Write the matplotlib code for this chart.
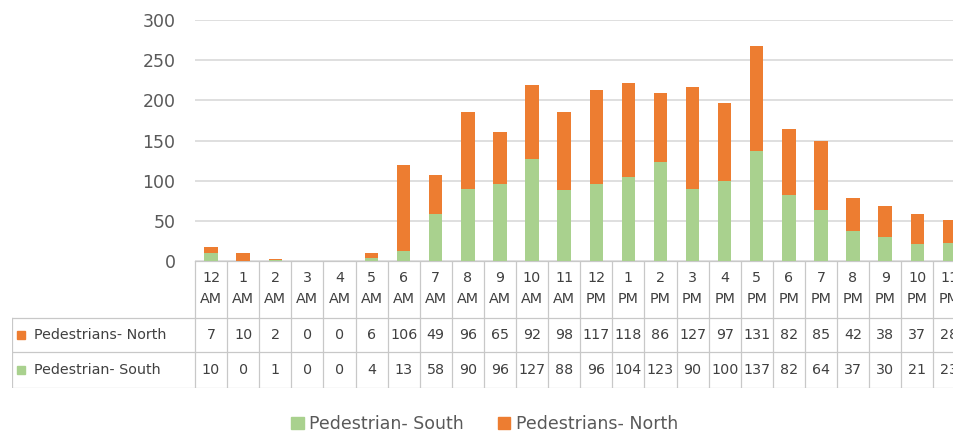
import matplotlib
matplotlib.use("Agg")
import matplotlib.pyplot as plt
from matplotlib.patches import Patch, Rectangle

# -----------------------------
# Data
# -----------------------------
hours = ["12\nAM", "1\nAM", "2\nAM", "3\nAM", "4\nAM", "5\nAM", "6\nAM", "7\nAM",
         "8\nAM", "9\nAM", "10\nAM", "11\nAM", "12\nPM", "1\nPM", "2\nPM", "3\nPM",
         "4\nPM", "5\nPM", "6\nPM", "7\nPM", "8\nPM", "9\nPM", "10\nPM", "11\nPM"]
north = [7, 10, 2, 0, 0, 6, 106, 49, 96, 65, 92, 98, 117, 118, 86, 127, 97, 131,
         82, 85, 42, 38, 37, 28]
south = [10, 0, 1, 0, 0, 4, 13, 58, 90, 96, 127, 88, 96, 104, 123, 90, 100, 137,
         82, 64, 37, 30, 21, 23]

north_label = "Pedestrians- North"
south_label = "Pedestrian- South"

GREEN = "#A9D18E"
ORANGE = "#ED7D31"
GRID = "#D9D9D9"
BORDER = "#C8C8C8"
TEXT = "#404040"

plt.rcParams["font.family"] = ["DejaVu Sans"]

W, H = 954, 434
fig = plt.figure(figsize=(W / 100, H / 100), dpi=100)
fig.patch.set_facecolor("white")

# pixel layout (the last column runs past the right edge)
col_left, col_w = 195, 32.1
n = len(hours)
col_right = col_left + n * col_w
y_top, y_zero = 20, 261
tbl_left, tbl_bottom = 12, 388

# -----------------------------
# Stacked bars
# -----------------------------
ax = fig.add_axes([col_left / W, 1 - y_zero / H,
                   (col_right - col_left) / W, (y_zero - y_top) / H])
x = list(range(n))
ax.bar(x, south, width=0.42, color=GREEN, zorder=3)
ax.bar(x, north, width=0.42, bottom=south, color=ORANGE, zorder=3)
ax.set_xlim(-0.5, n - 0.5)
ax.set_ylim(0, 300)
ax.set_yticks(range(0, 301, 50))
ax.yaxis.grid(True, color=GRID, linewidth=1.2, zorder=0)
ax.set_xticks([])
for s in ax.spines.values():
    s.set_visible(False)
ax.tick_params(axis="y", length=0, pad=14, labelsize=12.5, labelcolor="#595959")

# -----------------------------
# Data table
# -----------------------------
tax = fig.add_axes([tbl_left / W, 1 - tbl_bottom / H,
                    (col_right - tbl_left) / W, (tbl_bottom - y_zero) / H])
x_min = -0.5 - (col_left - tbl_left) / col_w
tax.set_xlim(x_min, n - 0.5)
tbl_h = tbl_bottom - y_zero
tax.set_ylim(tbl_h, 0)
tax.axis("off")

r1, r2, r3 = 57, 91, tbl_h
lw = 0.9
tax.plot([-0.5, n - 0.5], [0, 0], color=BORDER, lw=lw)
for yy in (r1, r2, r3):
    tax.plot([x_min, n - 0.5], [yy, yy], color=BORDER, lw=lw)
for i in range(n + 1):
    tax.plot([i - 0.5, i - 0.5], [0, r3], color=BORDER, lw=lw)
tax.plot([x_min, x_min], [r1, r3], color=BORDER, lw=lw)

fs = 10.3
for i, lab in enumerate(hours):
    tax.text(i, r1 / 2 - 1, lab, ha="center", va="center", fontsize=fs,
             color=TEXT, linespacing=1.6)
    tax.text(i, (r1 + r2) / 2, str(north[i]), ha="center", va="center",
             fontsize=fs, color=TEXT)
    tax.text(i, (r2 + r3) / 2, str(south[i]), ha="center", va="center",
             fontsize=fs, color=TEXT)

key = 8 / col_w
for (y0, y1), lab, c in (((r1, r2), north_label, ORANGE),
                         ((r2, r3), south_label, GREEN)):
    yc = (y0 + y1) / 2
    tax.add_patch(Rectangle((x_min + 5 / col_w, yc - 4), key, 8,
                            color=c, clip_on=False))
    tax.text(x_min + 22 / col_w, yc, lab, ha="left", va="center",
             fontsize=fs, color=TEXT)

# -----------------------------
# Legend
# -----------------------------
handles = [Patch(color=GREEN, label=south_label),
           Patch(color=ORANGE, label=north_label)]
fig.legend(handles=handles, loc="center", bbox_to_anchor=(0.508, 10 / H),
           ncol=2, frameon=False, fontsize=12.5, handlelength=0.7,
           handleheight=0.7, handletextpad=0.3, columnspacing=2.0,
           labelcolor="#595959")

fig.savefig("out.png", dpi=100, facecolor="white")
